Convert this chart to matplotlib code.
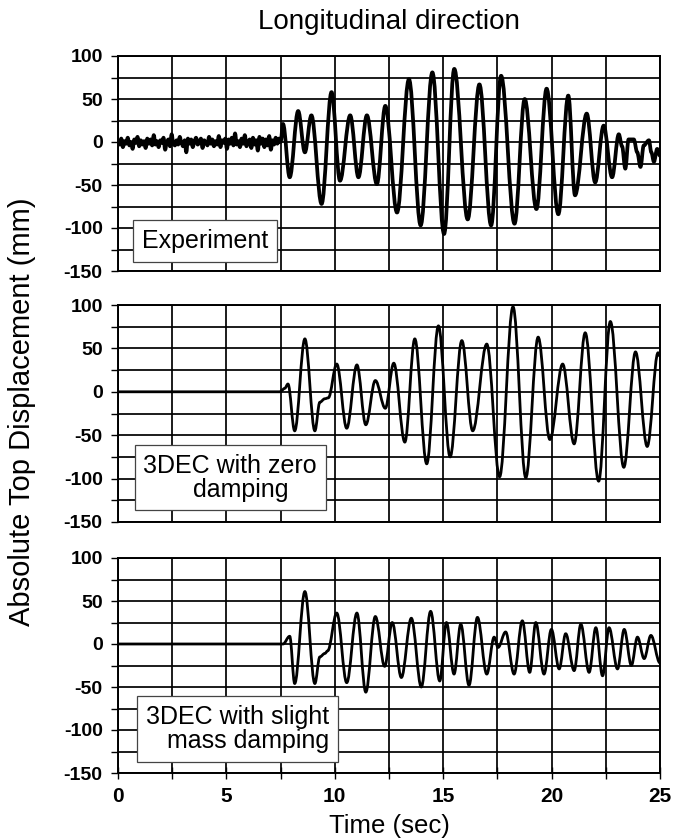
import numpy as np
import matplotlib.pyplot as plt
from matplotlib.ticker import MultipleLocator
from matplotlib.path import Path
from matplotlib.patches import PathPatch

plt.rcParams['font.family'] = ['Liberation Sans', 'DejaVu Sans']
plt.rcParams['axes.unicode_minus'] = False

# Experiment: ambient noise before the shaking starts (0 - 7.5 s, step 0.075 s)
noise_step = 0.075
exp_noise = [2, -3, 4, -6, 1, -2, 5, -4, 0, -8, 3, -1, 6, -5, 2, -3, 1, -7, 4, -2,
             3, -4, 8, -3, 1, -6, 2, -1, 5, -9, 0, 3, -5, 9, -2, -4, 2, -3, 6, -1,
             -5, 2, -12, 4, -2, 3, -6, 1, 5, -3, -1, 4, -7, 2, 0, -4, 6, -2, 3, -5,
             1, -3, 7, -6, 2, -1, 4, -8, 3, -2, 5, -4, 10, -3, 1, -6, 4, -2, 8, -5,
             -1, 3, -7, 5, -3, 2, -10, 6, -2, 4, -6, 3, -4, 7, -9, 2, -3, 5, -2, 4]

# Experiment: peaks / troughs after 7.5 s
exp_t = [7.5, 7.61, 7.92, 8.31, 8.62, 8.92, 9.39, 9.85, 10.24, 10.71, 11.09, 11.48,
         11.94, 12.33, 12.87, 13.42, 13.96, 14.5, 15.04, 15.51, 16.13, 16.67, 17.21,
         17.67, 18.29, 18.76, 19.3, 19.77, 20.31, 20.77, 21.08, 21.62, 22.01, 22.4,
         22.79, 23.1, 23.25, 23.4, 23.55, 23.79, 23.95, 24.1, 24.25, 24.49, 24.6,
         24.72, 24.87, 25.0]
exp_d = [0, 21, -41, 36, -12, 31, -72, 58, -45, 31, -41, 31,
         -49, 42, -82, 73, -97, 81, -107, 85, -90, 67, -97,
         77, -95, 50, -78, 62, -84, 54, -62, 33, -47, 19,
         -41, 9, -5, -31, 3, 3, -12, -29, -4, 2, -12,
         -23, -8, -16]

# 3DEC, zero damping
zero_t = [0, 7.5, 7.56, 7.69, 7.84, 8.15, 8.62, 9.08, 9.31, 9.54, 9.7, 10.09, 10.55,
          11.02, 11.43, 11.87, 12.33, 12.72, 13.23, 13.69, 14.24, 14.78, 15.32, 15.86,
          16.36, 17.01, 17.6, 18.22, 18.81, 19.38, 19.92, 20.51, 21.04, 21.55, 22.17,
          22.71, 23.33, 23.87, 24.41, 24.91, 25.0]
zero_d = [0, 0, 2, 4, 9, -45, 61, -45, -12, -8, -7, 32, -42,
          31, -38, 13, -19, 33, -58, 61, -83, 76, -75, 59,
          -45, 55, -98, 98, -99, 63, -55, 32, -60, 68, -103,
          81, -87, 46, -63, 45, 41]

# 3DEC, slight mass damping
mass_t = [0, 7.5, 7.61, 7.92, 8.15, 8.62, 9.08, 9.31, 9.54, 9.67, 10.09, 10.55, 11.02,
          11.43, 11.87, 12.3, 12.65, 13.07, 13.53, 13.99, 14.42, 14.84, 15.15, 15.5,
          15.81, 16.19, 16.58, 17.01, 17.35, 17.53, 17.88, 18.27, 18.65, 18.99, 19.27,
          19.65, 19.99, 20.35, 20.65, 21.04, 21.35, 21.73, 22.04, 22.35, 22.65, 23.04,
          23.35, 23.68, 23.96, 24.27, 24.58, 25.0]
mass_d = [0, 0, 0, 9, -46, 61, -46, -15, -11, -8, 36, -45, 36,
          -56, 32, -26, 25, -39, 30, -50, 38, -43, 25, -35,
          23, -48, 31, -35, 8, -4, 14, -35, 27, -33, 25,
          -35, 17, -29, 12, -31, 23, -33, 19, -37, 19, -29,
          17, -25, 8, -17, 10, -22]

labels = ['Experiment', '3DEC with zero\n   damping', '3DEC with slight\nmass damping']


def smooth_line(t, d, k=0.36):
    # smoothed line (like a spreadsheet "smoothed line" series) through the points
    verts = [(t[0], d[0])]
    codes = [Path.MOVETO]
    for i in range(1, len(t)):
        dt = t[i] - t[i - 1]
        verts += [(t[i - 1] + k * dt, d[i - 1]), (t[i] - k * dt, d[i]), (t[i], d[i])]
        codes += [Path.CURVE4] * 3
    return Path(verts, codes)


noise_t = list(np.arange(len(exp_noise)) * noise_step)
series = [
    (noise_t + exp_t, exp_noise + exp_d, 2.7),
    (zero_t, zero_d, 2.0),
    (mass_t, mass_d, 2.0),
]

W, H = 673, 840
fig = plt.figure(figsize=(W / 100, H / 100), dpi=100)

# panel pixel extents (top, bottom)
panels = [(56, 271), (305, 522), (558, 773)]
left, right = 118, 660
box_pos = [(0.16, 0.14, 'center'), (0.207, 0.205, 'center'), (0.22, 0.205, 'right')]

for i, (top, bot) in enumerate(panels):
    ax = fig.add_axes([left / W, 1 - bot / H, (right - left) / W, (bot - top) / H])
    t, d, lw = series[i]
    ax.add_patch(PathPatch(smooth_line(t, d), fc='none', ec='black', lw=lw,
                           joinstyle='round', zorder=3))
    ax.set_xlim(0, 25)
    ax.set_ylim(-150, 100)
    ax.xaxis.set_major_locator(MultipleLocator(5))
    ax.xaxis.set_minor_locator(MultipleLocator(2.5))
    ax.yaxis.set_major_locator(MultipleLocator(50))
    ax.yaxis.set_minor_locator(MultipleLocator(25))
    ax.grid(True, which='both', color='black', lw=1.25, zorder=1)
    ax.set_axisbelow(True)
    for s in ax.spines.values():
        s.set_linewidth(1.4)
    ax.tick_params(axis='y', which='both', direction='out', length=5, width=1.0,
                   labelsize=14, pad=6)
    ax.tick_params(axis='x', which='both', direction='inout', length=8, width=1.0,
                   labelsize=15, pad=6)
    for lab in ax.get_yticklabels() + ax.get_xticklabels():
        lab.set_fontweight('bold')
    if i < 2:
        ax.tick_params(axis='x', which='both', length=0, labelbottom=False)
    bx, by, ma = box_pos[i]
    ax.text(bx, by, labels[i], transform=ax.transAxes, ha='center', va='center',
            fontsize=18, linespacing=1.0, multialignment=ma, zorder=5,
            bbox=dict(boxstyle='square,pad=0.35', fc='white', ec='#444444', lw=0.9))

fig.text(389 / W, 1 - 22 / H, 'Longitudinal direction', ha='center', va='center',
         fontsize=20)
fig.text(22 / W, 1 - 412 / H, 'Absolute Top Displacement (mm)', ha='center',
         va='center', rotation=90, fontsize=21)
fig.text(389 / W, 1 - 826 / H, 'Time (sec)', ha='center', va='center', fontsize=18.5)

fig.savefig('out.png', dpi=100)
